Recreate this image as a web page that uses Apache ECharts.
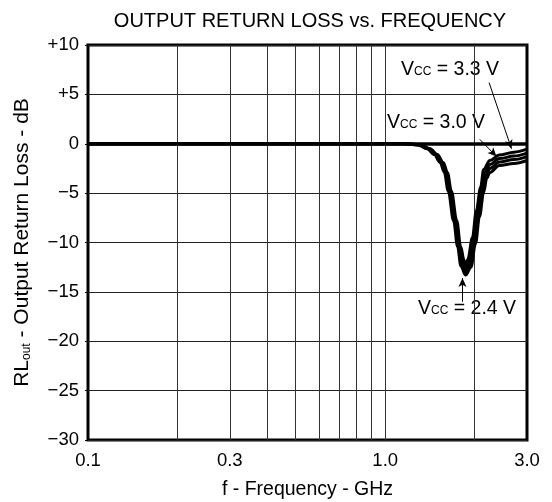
<!DOCTYPE html>
<html>
<head>
<meta charset="utf-8">
<script src="https://cdn.jsdelivr.net/npm/echarts@6/dist/echarts.min.js"></script>
<style>html,body{margin:0;padding:0;background:#fff;}#c{width:552px;height:502px;}</style>
</head>
<body>
<div id="c"></div>
<script>
// ---- data (frequency in GHz, return loss in dB) ----
const xTickLabels = [0.1, 0.3, 1.0, 3.0];
const xGridValues = [0.2, 0.3, 0.4, 0.5, 0.6, 0.7, 0.8, 0.9, 1.0, 2.0];

const freq24 = [0.1, 1.0, 1.146, 1.284, 1.383, 1.462, 1.531, 1.581, 1.630, 1.699, 1.752, 1.798, 1.865, 1.943, 2.014, 2.075, 2.145, 2.196, 2.25, 2.42, 2.71, 3.0];
const rl24   = [0, 0, 0, -0.1, -0.5, -1.1, -1.9, -2.9, -4.8, -7.8, -10.4, -12.4, -13.3, -12.5, -10.1, -7.4, -4.9, -3.5, -2.9, -2.2, -2.0, -1.7];

const freq27 = [0.1, 1.0, 1.155, 1.295, 1.394, 1.474, 1.544, 1.594, 1.643, 1.713, 1.766, 1.813, 1.865, 1.928, 1.998, 2.058, 2.128, 2.179, 2.25, 2.42, 2.71, 3.0];
const rl27   = [0, 0, 0, -0.1, -0.5, -1.1, -1.9, -2.9, -4.8, -7.8, -10.4, -12.2, -13.0, -12.3, -9.9, -7.2, -4.8, -3.2, -2.5, -1.85, -1.6, -1.3];

const freq30 = [0.1, 1.0, 1.165, 1.305, 1.406, 1.486, 1.556, 1.606, 1.657, 1.727, 1.780, 1.827, 1.865, 1.912, 1.982, 2.042, 2.112, 2.161, 2.25, 2.42, 2.71, 3.0];
const rl30   = [0, 0, 0, -0.1, -0.5, -1.1, -1.9, -2.9, -4.8, -7.8, -10.4, -12.0, -12.7, -12.0, -9.7, -7.0, -4.6, -2.9, -2.1, -1.5, -1.25, -0.95];

const freq33 = [0.1, 1.0, 1.174, 1.316, 1.417, 1.498, 1.569, 1.619, 1.670, 1.741, 1.794, 1.842, 1.865, 1.897, 1.966, 2.025, 2.095, 2.144, 2.25, 2.42, 2.71, 3.0];
const rl33   = [0, 0, 0, -0.1, -0.5, -1.1, -1.9, -2.9, -4.8, -7.8, -10.4, -11.8, -12.4, -11.7, -9.5, -6.8, -4.4, -2.6, -1.7, -1.15, -0.85, -0.55];

const FONT = '"Liberation Sans", Arial, sans-serif';
function pairs(f, v) { return f.map((x, i) => [x, v[i]]); }
function curve(name, f, v) {
  return {
    name: name, type: 'line', data: pairs(f, v), showSymbol: false, symbol: 'none',
    smooth: 0.35, smoothMonotone: 'x',
    lineStyle: { color: '#000', width: 3 }, z: 5, silent: true
  };
}
const vccRich = {
  v: { fontFamily: FONT, fontSize: 19.5, fill: '#000' },
  s: { fontFamily: FONT, fontSize: 12, fill: '#000', verticalAlign: 'bottom', padding: [0, 0, 2, 0] }
};

const chart = echarts.init(document.getElementById('c'), null, { renderer: 'canvas' });
const option = {
  animation: false,
  backgroundColor: '#fff',
  title: {
    text: 'OUTPUT RETURN LOSS vs. FREQUENCY', left: 305, top: 6, textAlign: 'center',
    textStyle: { fontFamily: FONT, fontSize: 20, fontWeight: 'normal', color: '#000' }
  },
  grid: { left: 88, right: 25, top: 45, bottom: 62, outerBoundsMode: 'none', containLabel: false,
          show: true, borderColor: '#000', borderWidth: 3, backgroundColor: 'transparent' },
  xAxis: {
    type: 'log', logBase: 10, min: 0.1, max: 3.0,
    name: 'f - Frequency - GHz', nameLocation: 'middle', nameGap: 40,
    nameTextStyle: { fontFamily: FONT, fontSize: 19.5, color: '#000' },
    axisLine: { show: false }, axisTick: { show: false },
    axisLabel: { show: false }, splitLine: { show: false }
  },
  yAxis: {
    type: 'value', min: -30, max: 10, interval: 5,
    name: '{a|RL}{s|out}{a| - Output Return Loss - dB}', nameLocation: 'middle', nameGap: 55, nameRotate: 90,
    nameTextStyle: { rich: {
      a: { fontFamily: FONT, fontSize: 21, color: '#000' },
      s: { fontFamily: FONT, fontSize: 12, color: '#000', verticalAlign: 'bottom', padding: [6, 0, 0, 0] }
    } },
    axisLine: { show: false },
    axisTick: { show: true, length: 3, lineStyle: { color: '#000' } },
    axisLabel: {
      fontFamily: FONT, fontSize: 18.5, color: '#000', margin: 9,
      formatter: v => v > 0 ? '+' + v : (v < 0 ? '\u2212' + Math.abs(v) : '0')
    },
    splitLine: { show: true, lineStyle: { color: '#222', width: 1 } }
  },
  series: [
    {
      name: 'grid', type: 'line', data: [], silent: true, z: 2,
      markLine: {
        silent: true, symbol: ['none', 'none'], animation: false,
        lineStyle: { color: '#333', width: 1, type: 'solid' },
        label: { show: false },
        data: xGridValues.map(v => ({ xAxis: v }))
          .concat([{ yAxis: 0, lineStyle: { color: '#000', width: 3.5 } }])
      }
    },
    {
      name: 'ticks', type: 'line', data: [], silent: true, z: 1,
      markLine: {
        silent: true, symbol: ['none', 'none'], animation: false,
        lineStyle: { color: 'rgba(0,0,0,0)', width: 1, type: 'solid' },
        label: { show: true, position: 'start', distance: 11, fontFamily: FONT, fontSize: 18.5, color: '#000',
                 formatter: p => Number(p.value).toFixed(1) },
        data: xTickLabels.map(v => ({ xAxis: v }))
      }
    },
    curve('VCC = 2.4 V', freq24, rl24),
    curve('VCC = 2.7 V', freq27, rl27),
    curve('VCC = 3.0 V', freq30, rl30),
    curve('VCC = 3.3 V', freq33, rl33),
    {
      name: 'arrows', type: 'line', data: [], silent: true, z: 6,
      markLine: {
        silent: true, symbol: ['none', 'arrow'], symbolSize: [6, 9], animation: false,
        lineStyle: { color: '#000', width: 1, type: 'solid' },
        label: { show: false },
        data: [
          [{ coord: [2.236, 6.2] }, { coord: [2.66, -0.5] }],
          [{ coord: [2.08, 0.45] }, { coord: [2.37, -1.3] }],
          [{ coord: [1.82, -16.0] }, { coord: [1.82, -13.6] }]
        ]
      }
    }
  ],
  graphic: [
    { type: 'text', left: 401, top: 60, style: { text: '{v|V}{s|CC}{v| = 3.3 V}', rich: vccRich } },
    { type: 'text', left: 387, top: 113, style: { text: '{v|V}{s|CC}{v| = 3.0 V}', rich: vccRich } },
    { type: 'text', left: 418, top: 299, style: { text: '{v|V}{s|CC}{v| = 2.4 V}', rich: vccRich } }
  ]
};
chart.setOption(option);
</script>
</body>
</html>
